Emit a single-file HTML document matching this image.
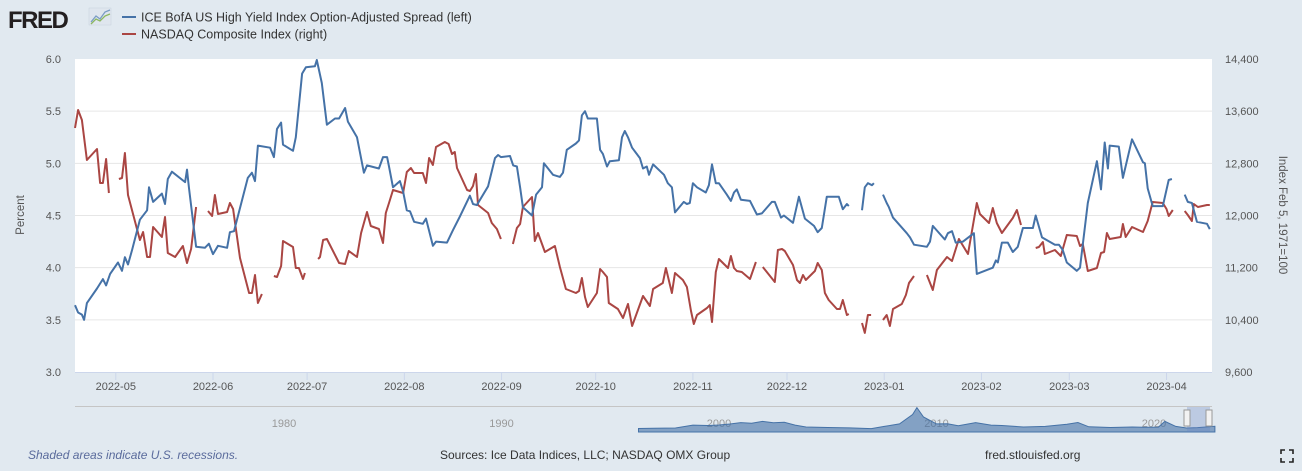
<!DOCTYPE html>
<html><head><meta charset="utf-8">
<style>
html,body{margin:0;padding:0;background:#e1e9f0;}
svg{display:block;font-family:"Liberation Sans",sans-serif;}
</style></head>
<body>
<svg id="chart" width="1302" height="471" viewBox="0 0 1302 471" xmlns="http://www.w3.org/2000/svg">
<rect width="1302" height="471" fill="#e1e9f0"/>
<g>
<text x="8" y="28" font-size="24" font-weight="bold" fill="#231f20" letter-spacing="-1.5">FRED</text>
<rect x="89" y="8" width="22" height="17" fill="#dfe6ee" stroke="#c8d2dc" stroke-width="0.5"/>
<polyline points="91,22 96,16 100,19 105,12 110,10" fill="none" stroke="#7a9cc4" stroke-width="1.3"/>
<polyline points="91,24 96,19 100,21 105,16 110,14" fill="none" stroke="#8cb860" stroke-width="1.3"/>
</g>
<g>
<g>
<line x1="122" y1="17" x2="136" y2="17" stroke="#4572a7" stroke-width="2"/>
<text x="141" y="21.5" font-size="12.5" fill="#333">ICE BofA US High Yield Index Option-Adjusted Spread (left)</text>
</g>
<g>
<line x1="122" y1="34" x2="136" y2="34" stroke="#aa4643" stroke-width="2"/>
<text x="141" y="38.5" font-size="12.5" fill="#333">NASDAQ Composite Index (right)</text>
</g>
</g>
<rect x="75" y="59" width="1137" height="313" fill="#fff"/>
<g id="grid"></g>
<g id="axes"></g>
<g id="series"></g>
<text transform="translate(24,215) rotate(-90)" text-anchor="middle" font-size="11.5" fill="#555">Percent</text>
<text transform="translate(1279,215) rotate(90)" text-anchor="middle" font-size="11.5" fill="#555">Index Feb 5, 1971=100</text>
<g>
<line x1="75" y1="406.5" x2="1212" y2="406.5" stroke="#c5c5c5" stroke-width="1"/>
<g id="nav"></g>
<rect x="1187" y="407" width="23" height="25" fill="#6685c2" fill-opacity="0.3"/>
<rect x="1184" y="410" width="6" height="16" fill="#f2f2f2" stroke="#999" stroke-width="1"/>
<rect x="1206" y="410" width="6" height="16" fill="#f2f2f2" stroke="#999" stroke-width="1"/>
</g>
<text x="28" y="459" font-size="12" font-style="italic" fill="#5a6b9c">Shaded areas indicate U.S. recessions.</text>
<text x="440" y="459" font-size="12" fill="#333">Sources: Ice Data Indices, LLC; NASDAQ OMX Group</text>
<text x="985" y="459" font-size="12" fill="#333">fred.stlouisfed.org</text>
<g stroke="#222" stroke-width="1.6" fill="none">
<polyline points="1281,454 1281,450 1285,450"/><polyline points="1289,450 1293,450 1293,454"/>
<polyline points="1281,458 1281,462 1285,462"/><polyline points="1289,462 1293,462 1293,458"/>
</g>
</svg>
<script>
const leftTicks = [3.0, 3.5, 4.0, 4.5, 5.0, 5.5, 6.0];
const rightTicks = [9600, 10400, 11200, 12000, 12800, 13600, 14400];
const monthLabels = ["2022-05","2022-06","2022-07","2022-08","2022-09","2022-10","2022-11","2022-12","2023-01","2023-02","2023-03","2023-04"];
const monthDays = [13,44,74,105,136,166,197,227,258,289,317,348];
const hyDays = [0,1.0,2.2,2.9,3.8,7.0,8.9,9.9,11.2,13.7,15.0,15.9,16.9,18.2,20.7,23.0,23.6,24.9,27.7,28.7,29.6,30.9,35.1,35.7,36.3,38.6,41.4,42.7,44.0,45.6,48.5,49.4,50.7,55.1,56.4,57.4,58.3,62.2,63.4,64.4,65.7,66.3,69.5,70.4,72.4,73.6,76.5,77.1,78.7,80.3,82.9,84.2,86.1,87.0,89.9,92.1,93.1,96.9,98.2,99.5,100.1,101.4,103.6,104.6,105.8,106.8,108.1,110.9,111.9,114.1,115.1,118.6,120.5,122.7,125.9,126.9,128.1,131.7,133.9,134.9,135.8,138.7,139.7,140.9,141.9,142.8,145.7,147.0,148.9,149.5,152.4,154.6,155.6,156.8,159.7,160.7,161.6,162.6,163.5,166.4,167.4,168.3,169.6,170.5,173.4,174.4,175.3,176.3,177.6,180.1,181.1,182.3,183.0,184.3,187.8,189.0,190.3,191.3,194.1,195.1,196.0,197.0,198.3,201.1,202.1,203.1,204.3,205.3,207.8,209.1,210.1,211.0,212.3,215.2,217.4,219.0,222.2,223.1,225.1,226.0,228.9,230.8,232.7,235.6,236.8,238.1,239.7,243.5,244.8,246.1,246.7,248,250.9,251.8,252.8,254.1,254.7,256,257.6,258.8,259.5,260.8,265.2,266.2,267.5,271.6,272.6,273.5,277.3,278.3,279.6,280.8,283.1,286.6,287.5,292.6,293.6,294.2,295.5,297.4,299.0,300.6,302.2,305.4,306.3,308.3,312.4,313.7,314.9,316.2,319.4,320.4,322.9,325.8,327.1,328.3,329.3,329.9,332.8,334.1,337.0,340.5,341.1,342.0,343.6,346.8,348.7,349.7,351,353.8,354.8,356.1,357.7,360.9,361.8];
const hyValues = [3.64,3.57,3.55,3.50,3.66,3.80,3.89,3.83,3.94,4.05,3.97,4.10,4.03,4.17,4.46,4.55,4.77,4.63,4.71,4.61,4.85,4.92,4.82,4.94,4.77,4.20,4.19,4.23,4.13,4.21,4.19,4.34,4.35,4.86,4.91,4.83,5.17,5.15,5.06,5.33,5.39,5.18,5.12,5.25,5.86,5.92,5.93,5.99,5.77,5.37,5.43,5.43,5.53,5.40,5.25,4.91,4.98,4.95,5.06,5.06,4.97,4.77,4.83,4.73,4.55,4.54,4.44,4.42,4.47,4.21,4.25,4.24,4.36,4.49,4.69,4.61,4.60,4.78,5.05,5.08,5.06,5.07,4.98,4.97,4.77,4.58,4.50,4.70,4.77,5.00,4.89,4.87,4.91,5.13,5.19,5.22,5.46,5.50,5.43,5.43,5.13,5.09,4.97,5.02,5.03,5.25,5.31,5.25,5.15,5.05,4.95,4.97,4.89,4.99,4.89,4.81,4.77,4.53,4.63,4.61,4.62,4.81,4.77,4.72,4.79,4.99,4.81,4.81,4.70,4.64,4.72,4.75,4.65,4.64,4.51,4.52,4.63,4.63,4.48,4.50,4.43,4.68,4.47,4.40,4.34,4.38,4.68,4.68,4.56,4.61,4.59,null,4.55,4.77,4.81,4.79,4.81,null,4.70,4.62,4.58,4.48,4.33,4.29,4.22,4.20,4.25,4.40,4.27,4.33,4.35,4.24,4.25,4.33,3.94,4.00,4.07,4.05,4.24,4.24,4.15,4.20,4.38,4.38,4.50,4.29,4.22,4.22,4.17,4.05,3.97,4.00,4.62,5.02,4.75,5.20,4.95,5.17,5.16,4.86,5.23,5.01,5.00,4.76,4.59,4.59,4.84,4.85,null,4.70,4.63,4.62,4.44,4.42,4.37];
const nqDays = [0,1.0,2.2,3.8,7.0,8.0,8.9,9.9,10.8,12,14.0,15.0,15.9,16.9,20.7,21.7,23.0,23.9,24.9,27.7,28.7,29.6,31.9,34.4,35.7,37.0,38.6,40,42.4,43.7,44.6,45.6,48.5,49.4,50.4,52.6,55.5,56.4,57.4,58.3,59.6,61,63.4,64.4,65.7,66.3,69.5,70.4,71.4,72.7,73.3,75,77.5,78.1,79.1,80.3,84.2,86.1,87.3,89.9,91.2,93.1,94.3,96.9,98.2,99.1,100.1,101.4,104.6,105.8,107.1,108.1,110.9,111.9,112.9,114.1,115.1,117.9,119.1,120.2,121.1,121.8,125.0,125.9,126.9,127.8,128.5,131.7,132.9,134.5,135.8,137,139.6,140.9,141.9,142.8,145.7,146.6,147.6,149.8,153.0,154.6,156.5,159.7,160.7,161.6,162.6,163.5,166.4,167.4,168.3,169.6,170.2,173.1,174.7,176.3,177.6,181.1,183.3,184.3,187.4,188.4,190.3,191.3,193.8,195.1,196.4,197.3,198.3,201.5,202.4,203.1,204.3,205.3,208.2,209.1,210.1,211.0,212.6,215.2,217.1,218,219.3,223.1,224.1,225.4,226.3,228.9,230.2,231.1,232.1,233.0,235.9,236.8,238.1,239.1,240.3,242.9,243.9,244.8,246.1,246.7,248,250.9,251.8,252.8,253.8,255,257.6,258.8,259.8,260.8,263.6,264.9,265.9,267.5,269,271.6,273.5,274.8,278.0,279.6,281.8,284.7,287.5,288.5,291.4,292.6,293.9,295.5,299.0,300.3,301.6,303,306.3,307.3,308.6,309.2,312.4,314.3,316.2,319.4,320.4,321.3,322.9,325.8,327.1,328.1,329.0,329.9,333.4,334.1,335.0,337.0,340.5,342.0,343.6,346.8,348.0,348.7,350.0,351,353.8,354.8,356.1,356.7,358.0,360.9,361.8];
const nqValues = [13342,13618,13465,12851,13020,12498,12498,12867,12345,null,12560,12575,12959,12315,11624,11747,11364,11364,11824,11670,11977,11425,11364,11532,11272,11486,12130,null,12069,11992,12315,12023,12054,12192,12100,11349,10812,10812,11088,10658,10796,null,11072,11057,11226,11609,11517,11195,11195,11026,11118,null,11333,11364,11624,11640,11272,11256,11456,11364,11732,12054,11839,11793,11578,12038,12192,12391,12345,12667,12729,12652,12652,12498,12882,12774,13051,13127,13096,12943,12974,12729,12391,12376,12452,12636,12161,12038,11885,11793,11640,null,11563,11808,11870,12130,12284,11609,11732,11441,11532,11210,10873,10812,10842,11042,10750,10597,10812,11180,11134,11057,10658,10566,10428,10643,10306,10766,10612,10873,10965,11195,10812,11118,11011,10904,10536,10336,10474,10582,10628,10367,11134,11333,11195,11379,11195,11149,11134,11026,11287,null,11210,10980,11471,11486,11456,11241,11011,10965,11088,11011,11149,11272,11164,10812,10704,10566,10566,10704,10474,10490,null,10352,10199,10474,10474,null,10398,10474,10306,10566,10643,10781,10965,11072,null,11088,10858,11164,11364,11302,11640,11410,12192,12023,11885,12115,11885,11732,11962,12084,11854,null,11502,11517,11594,11410,11471,11379,11701,11685,11532,11563,11149,11195,11425,11441,11732,11640,11670,11870,11670,11824,11747,11915,12207,12192,12100,11992,12084,null,12069,12008,11915,12177,12130,12161,12161];
const navYears = [1980,1990,2000,2010,2020];
const navSpreadYears = [1996.3,1997,1998,1998.8,1999.5,2000,2000.5,2001,2001.5,2002,2002.5,2003,2003.5,2004,2005,2006,2007,2007.6,2008.3,2008.9,2009.1,2009.4,2010,2010.5,2011,2011.8,2012.5,2013,2014,2015,2016,2016.5,2017,2018,2019,2019.5,2020.2,2020.5,2021,2021.5,2022,2022.8];
const navSpreadValues = [2.8,3.0,3.2,5.5,5.2,5.6,6.4,7.5,7.0,8.5,7.4,7.8,5.5,4.0,3.6,3.3,2.7,4.5,6.5,14.0,19.5,12.0,6.5,6.6,5.0,7.5,5.5,5.2,4.0,4.5,6.2,7.6,4.2,3.6,4.0,3.8,3.9,8.5,4.5,3.2,3.5,4.6];

const NS = "http://www.w3.org/2000/svg";
const X0 = 75, X1 = 1212, Y0 = 59, Y1 = 372, DAYMAX = 362.5;
const xScale = d => X0 + d / DAYMAX * (X1 - X0);
const yLeft = v => Y1 - (v - 3) / 3 * (Y1 - Y0);
const yRight = v => Y1 - (v - 9600) / 4800 * (Y1 - Y0);
const navX = yr => 284 + (yr - 1980) * 21.75;
const navY = v => 432 - v / 20 * 25;
function mk(tag, attrs, parent) {
  const e = document.createElementNS(NS, tag);
  for (const k in attrs) e.setAttribute(k, attrs[k]);
  parent.appendChild(e);
  return e;
}
const grid = document.getElementById('grid');
const axes = document.getElementById('axes');
const series = document.getElementById('series');
const nav = document.getElementById('nav');

leftTicks.forEach((t, i) => {
  const y = yLeft(t);
  if (i > 0 && i < leftTicks.length - 1) {
    const gl = mk('line', {x1: X0, x2: X1, y1: y, y2: y, stroke: '#e6e6e6', 'stroke-width': 1}, grid);
    
    
  }
  const tx = mk('text', {x: 61, y: y + 4, 'text-anchor': 'end', 'font-size': 11, fill: '#555'}, axes);
  tx.textContent = t.toFixed(1);
  
  
});
rightTicks.forEach(t => {
  const y = yRight(t);
  const tx = mk('text', {x: 1225, y: y + 4, 'font-size': 11, fill: '#555'}, axes);
  tx.textContent = t.toLocaleString('en-US');
  
  
});
const base = mk('line', {x1: X0, x2: X1, y1: Y1 + 0.5, y2: Y1 + 0.5, stroke: '#ccd6eb', 'stroke-width': 1}, axes);


monthDays.forEach((d, i) => {
  const x = xScale(d);
  const tk = mk('line', {x1: x, x2: x, y1: Y1, y2: Y1 + 8, stroke: '#ccd6eb', 'stroke-width': 1}, axes);
  
  
  const tx = mk('text', {x: x, y: Y1 + 18, 'text-anchor': 'middle', 'font-size': 11, fill: '#555'}, axes);
  tx.textContent = monthLabels[i];
  
  
});

function drawLine(days, vals, ys, color, name) {
  let d = '', pen = false;
  for (let i = 0; i < days.length; i++) {
    if (vals[i] === null) { pen = false; continue; }
    d += (pen ? 'L' : 'M') + xScale(days[i]).toFixed(1) + ',' + ys(vals[i]).toFixed(1);
    pen = true;
  }
  const p = mk('path', {d: d, fill: 'none', stroke: color, 'stroke-width': 2, 'stroke-linejoin': 'round'}, series);
  
  
}
drawLine(nqDays, nqValues, yRight, '#aa4643', 'nasdaq-line');
drawLine(hyDays, hyValues, yLeft, '#4572a7', 'hy-spread-line');

navYears.forEach(yr => {
  const tx = mk('text', {x: navX(yr), y: 427, 'text-anchor': 'middle', 'font-size': 11, fill: '#999'}, nav);
  tx.textContent = yr;
  
  
});
let nd = 'M' + navX(navSpreadYears[0]).toFixed(1) + ',432';
navSpreadYears.forEach((yr, i) => { nd += 'L' + navX(yr).toFixed(1) + ',' + navY(navSpreadValues[i]).toFixed(1); });
nd += 'L' + navX(navSpreadYears[navSpreadYears.length - 1]).toFixed(1) + ',432Z';
const na = mk('path', {d: nd, fill: '#4572a7', 'fill-opacity': 0.6, stroke: '#4572a7', 'stroke-width': 1}, nav);


</script>
</body></html>
